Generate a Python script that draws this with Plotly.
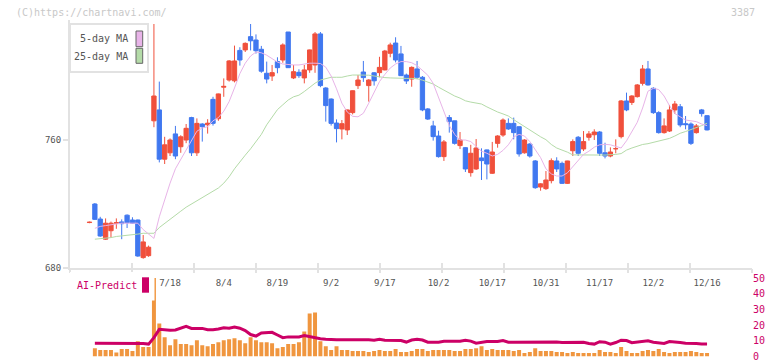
import plotly.graph_objects as go
import pandas as pd

W, H = 772, 361

holidays = ["2025-07-21", "2025-08-11", "2025-09-15", "2025-09-23",
            "2025-10-13", "2025-11-03", "2025-11-24"]
dates = [d.strftime("%Y-%m-%d") for d in pd.bdate_range("2025-06-27", "2025-12-16")
         if d.strftime("%Y-%m-%d") not in holidays]

opens = [708.4, 720.0, 710.6, 698.0, 703.3, 708.0, 708.8, 713.0, 710.0, 710.0,
         686.5, 687.7, 772.0, 778.8, 748.0, 752.0, 763.8, 755.8, 760.0, 774.0,
         752.0, 770.0, 769.5, 785.4, 773.3, 793.0, 797.5, 797.0, 816.0, 816.3,
         824.6, 822.5, 816.7, 801.7, 800.0, 809.0, 810.0, 827.5, 798.8, 802.3,
         798.8, 803.8, 806.9, 826.3, 792.5, 785.6, 770.6, 766.9, 766.3, 777.1,
         794.0, 802.5, 794.0, 802.0, 802.1, 803.8, 814.2, 820.6, 813.8, 800.6,
         798.1, 804.4, 799.2, 779.4, 768.8, 762.5, 749.6, 774.0, 772.0, 756.5,
         755.2, 739.6, 741.9, 748.8, 753.8, 739.2, 757.9, 763.1, 770.4, 770.4,
         768.3, 752.0, 757.5, 746.9, 730.6, 729.6, 734.6, 746.9, 745.4, 732.9,
         753.3, 761.7, 754.4, 761.7, 763.3, 765.0, 752.0, 750.0, 754.5, 762.1,
         784.4, 783.5, 787.1, 795.4, 804.4, 792.3, 777.1, 764.6, 765.6, 778.8,
         780.8, 770.2, 770.0, 764.6, 778.8, 775.2]
highs = [709.0, 720.6, 712.0, 711.0, 709.0, 711.0, 710.4, 713.5, 711.7, 710.2,
         700.6, 694.0, 832.5, 796.5, 762.0, 761.0, 768.8, 763.0, 770.0, 774.5,
         773.5, 770.5, 773.0, 787.0, 789.0, 798.5, 810.0, 819.0, 818.0, 821.0,
         832.5, 826.0, 818.8, 809.0, 806.9, 811.7, 820.4, 827.5, 806.9, 804.2,
         806.9, 816.5, 827.5, 827.5, 793.0, 786.0, 772.9, 772.5, 779.0, 791.0,
         800.6, 809.4, 798.0, 802.5, 812.0, 816.3, 820.8, 824.2, 818.8, 801.5,
         806.0, 809.4, 800.0, 780.0, 772.0, 765.8, 760.0, 775.6, 772.0, 765.0,
         755.5, 757.0, 760.6, 754.8, 754.0, 758.8, 763.0, 773.5, 773.5, 774.0,
         768.5, 760.5, 758.0, 747.5, 733.0, 740.6, 748.5, 749.2, 746.5, 747.0,
         760.4, 762.5, 765.6, 765.6, 766.7, 765.6, 758.3, 755.4, 760.4, 785.0,
         789.6, 788.0, 795.0, 806.9, 809.4, 793.0, 778.0, 773.5, 781.9, 784.4,
         782.5, 775.0, 771.0, 770.0, 779.4, 775.5]
lows = [708.0, 710.0, 699.5, 697.5, 699.0, 704.5, 698.0, 705.0, 707.5, 687.0,
        685.8, 687.0, 768.0, 746.0, 745.0, 750.0, 748.0, 752.0, 758.0, 750.0,
        750.0, 759.0, 764.0, 769.0, 772.0, 787.0, 796.5, 796.0, 806.5, 815.0,
        816.0, 814.0, 802.0, 795.4, 796.9, 801.7, 808.3, 805.0, 798.1, 798.8,
        795.4, 802.0, 802.0, 793.0, 771.5, 769.0, 758.5, 760.4, 763.1, 776.0,
        791.9, 796.3, 784.0, 794.0, 799.2, 803.5, 811.7, 808.5, 800.0, 795.0,
        793.3, 798.0, 778.0, 772.5, 759.6, 749.0, 746.9, 764.6, 757.1, 754.4,
        740.0, 737.1, 741.3, 735.0, 735.4, 738.8, 755.2, 762.0, 766.3, 760.4,
        749.6, 751.5, 749.0, 729.5, 728.3, 728.8, 732.9, 740.0, 732.5, 732.5,
        750.0, 750.0, 753.1, 759.6, 760.0, 750.0, 748.5, 749.2, 751.7, 761.0,
        778.0, 781.9, 786.5, 794.0, 794.0, 776.3, 764.0, 764.0, 765.0, 776.3,
        768.0, 766.7, 756.9, 764.0, 774.6, 766.0]
closes = [708.6, 710.4, 700.0, 708.0, 708.0, 708.3, 707.7, 708.3, 708.0, 687.5,
          696.3, 693.0, 787.5, 748.0, 757.0, 760.0, 750.0, 762.0, 767.3, 752.0,
          770.4, 768.3, 770.5, 770.4, 788.8, 793.5, 809.4, 809.4, 810.0, 820.4,
          822.0, 815.8, 803.0, 798.1, 802.1, 805.2, 819.4, 805.2, 802.7, 800.2,
          803.8, 816.3, 826.3, 794.0, 781.5, 770.4, 767.1, 770.2, 778.8, 790.8,
          797.5, 799.0, 797.5, 797.0, 805.4, 815.6, 819.4, 810.0, 800.2, 796.9,
          805.4, 799.2, 778.8, 773.1, 762.1, 749.6, 758.8, 771.5, 757.9, 760.0,
          741.9, 751.7, 755.0, 747.1, 745.0, 752.5, 762.5, 772.5, 766.9, 764.6,
          751.3, 760.0, 750.0, 730.2, 732.6, 735.0, 747.1, 741.9, 732.9, 746.9,
          759.0, 751.7, 759.0, 763.8, 765.0, 751.7, 750.0, 752.5, 754.6, 784.4,
          778.8, 787.5, 794.4, 804.4, 794.4, 777.1, 764.6, 768.8, 778.8, 782.5,
          769.4, 769.6, 757.9, 768.8, 776.5, 766.3]

ma5 = [None, 704.8, 706.0, 706.5, 707.0, 707.5, 708.0, 708.0, 708.0, 708.0,
       704.0, 701.0, 698.5, 712.0, 723.0, 733.0, 742.0, 748.0, 753.5, 760.0,
       765.5, 767.5, 768.3, 772.0, 774.0, 778.0, 784.0, 792.5, 801.5, 808.0,
       812.5, 815.0, 814.5, 813.0, 811.0, 808.7, 807.5, 807.0, 806.9, 806.9,
       807.5, 808.0, 808.0, 807.8, 805.5, 800.0, 792.0, 783.0, 777.5, 774.8,
       774.5, 776.7, 783.0, 790.0, 796.5, 801.0, 805.0, 807.5, 809.0, 809.0,
       808.3, 806.5, 803.5, 800.5, 795.4, 787.0, 778.0, 769.0, 763.5, 760.0,
       760.0, 759.0, 756.0, 753.0, 751.7, 750.0, 751.0, 753.5, 757.0, 762.0,
       763.5, 762.5, 759.0, 754.0, 749.0, 742.0, 738.8, 737.5, 737.5, 739.5,
       743.5, 747.5, 751.0, 753.0, 755.5, 757.0, 757.3, 757.0, 756.0, 755.0,
       759.5, 765.0, 771.0, 780.0, 790.5, 792.3, 791.5, 787.5, 781.5, 776.5,
       774.5, 772.5, 772.0, 771.5, 770.0, 769.0]
ma25 = [None, 698.0, 698.3, 698.5, 699.0, 699.7, 700.0, 700.2, 700.6, 701.2,
        701.7, 701.7, 701.7, 705.3, 708.0, 710.5, 713.0, 715.5, 718.0, 720.0,
        721.5, 723.5, 725.5, 727.5, 730.0, 733.0, 737.0, 742.0, 746.5, 750.5,
        754.5, 758.7, 763.5, 769.5, 774.5, 779.0, 782.0, 785.0, 787.0, 788.0,
        790.3, 793.0, 795.5, 797.5, 798.5, 799.2, 799.2, 799.2, 800.0, 800.6,
        800.6, 800.6, 800.5, 800.0, 799.3, 799.0, 798.8, 798.6, 798.5, 798.5,
        798.5, 798.3, 797.4, 796.3, 795.0, 793.0, 791.0, 789.5, 787.5, 786.2,
        784.5, 783.7, 783.3, 782.5, 780.7, 779.0, 777.5, 776.3, 775.0, 772.7,
        770.5, 768.3, 766.0, 763.7, 762.0, 760.2, 757.2, 755.0, 753.9, 752.4,
        750.7, 750.6, 750.6, 750.6, 750.6, 750.6, 750.6, 750.6, 751.0, 751.5,
        753.7, 755.0, 756.3, 757.2, 757.7, 758.5, 759.7, 760.5, 761.0, 762.5,
        764.2, 765.3, 766.5, 767.5, 769.0, 770.5]

volume = [None, 5.3, 4.1, 4.1, 4.1, 2.6, 4.7, 4.7, 3.5, 9.7,
          6.0, 6.0, 50.0, 21.0, 12.3, 7.2, 11.0, 7.9, 7.9, 7.2,
          10.4, 7.2, 6.6, 7.9, 9.1, 10.4, 11.0, 11.6, 10.4, 8.5,
          12.3, 10.4, 9.1, 9.1, 8.5, 5.3, 6.0, 7.9, 7.9, 9.1,
          16.0, 27.4, 28.0, 9.7, 6.6, 4.1, 6.6, 4.1, 4.1, 3.5,
          3.5, 3.5, 2.8, 3.5, 4.1, 3.5, 3.5, 4.7, 2.8, 2.8,
          3.5, 4.7, 4.7, 3.5, 4.1, 4.1, 4.1, 4.1, 3.5, 3.5,
          4.7, 4.7, 5.3, 6.6, 4.1, 4.7, 4.1, 4.1, 4.1, 3.5,
          4.1, 2.2, 2.8, 5.3, 3.5, 3.5, 3.5, 2.8, 2.8, 2.2,
          2.8, 2.2, 2.2, 2.2, 2.2, 4.1, 2.8, 2.8, 2.2, 6.0,
          3.5, 2.2, 2.2, 3.5, 4.1, 3.5, 4.7, 2.8, 2.2, 2.8,
          2.8, 2.8, 3.5, 2.8, 2.2, 2.2]

ai_predict = [None, 8.5, 8.5, 8.5, 8.5, 8.5, 8.5, 8.5, 8.5, 8.5,
              8.3, 7.9, 12.0, 17.3, 17.0, 16.7, 16.9, 17.9, 19.2, 17.9,
              17.9, 17.9, 17.0, 17.0, 17.5, 18.3, 18.0, 18.8, 18.0, 16.5,
              14.0, 13.0, 15.0, 15.4, 15.4, 13.7, 12.0, 12.5, 12.5, 12.5,
              13.3, 12.5, 11.8, 11.3, 11.0, 10.6, 10.6, 10.6, 10.6, 11.0,
              10.6, 11.0, 10.6, 10.4, 11.0, 10.4, 10.2, 10.2, 10.2, 9.2,
              10.5, 11.0, 10.5, 9.1, 9.1, 9.1, 9.7, 9.7, 9.7, 9.7,
              10.4, 9.8, 8.5, 9.2, 9.5, 9.5, 9.5, 10.2, 9.1, 9.1,
              9.1, 9.5, 9.5, 9.5, 9.5, 9.2, 9.5, 9.2, 8.9, 8.9,
              9.0, 9.1, 9.1, 8.3, 7.9, 9.4, 9.1, 7.9, 8.9, 10.4,
              10.2, 8.8, 9.3, 9.8, 10.0, 9.1, 8.7, 8.3, 9.5, 9.0,
              8.9, 8.5, 8.5, 8.3, 7.9, 7.9]

tick_dates = ["2025-07-18", "2025-08-04", "2025-08-19", "2025-09-02", "2025-09-17",
              "2025-10-02", "2025-10-17", "2025-10-31", "2025-11-17", "2025-12-02",
              "2025-12-16"]
tick_text = ["7/18", "8/4", "8/19", "9/2", "9/17", "10/2", "10/17", "10/31",
             "11/17", "12/2", "12/16"]
price_ticks = [680, 760]
ai_ticks = [0, 10, 20, 30, 40, 50]
grid_ticks = list(range(12))

RED = "#f0503c"
BLUE = "#4078f0"
PINK = "#e8b4e8"
GREEN = "#b4dba8"
ORANGE = "#f0963f"
MAG = "#cc0066"
LG = "#e2e2e2"
TXT = "#555555"
FONT = "DejaVu Sans Mono"


def px(x):
    return x / W


def py(y):
    return 1 - y / H


fig = go.Figure()
fig.add_trace(go.Scatter(x=dates, y=ma25, mode="lines", line=dict(color=GREEN, width=1),
                         showlegend=False, hoverinfo="skip"))
fig.add_trace(go.Scatter(x=dates, y=ma5, mode="lines", line=dict(color=PINK, width=1),
                         showlegend=False, hoverinfo="skip"))
fig.add_trace(go.Candlestick(
    x=dates, open=opens, high=highs, low=lows, close=closes,
    increasing=dict(line=dict(color=RED, width=1), fillcolor=RED),
    decreasing=dict(line=dict(color=BLUE, width=1), fillcolor=BLUE),
    whiskerwidth=0, showlegend=False, hoverinfo="skip"))
fig.add_trace(go.Bar(x=dates, y=volume, xaxis="x2", yaxis="y2",
                     marker=dict(color=ORANGE, line=dict(width=0)),
                     width=0.74, showlegend=False, hoverinfo="skip"))
fig.add_trace(go.Scatter(x=dates, y=ai_predict, xaxis="x2", yaxis="y2", mode="lines",
                         line=dict(color=MAG, width=3), showlegend=False, hoverinfo="skip"))
# empty traces so that the two tick-only overlay axes get drawn
fig.add_trace(go.Scatter(x=[], y=[], xaxis="x3", yaxis="y", showlegend=False, hoverinfo="skip"))
fig.add_trace(go.Scatter(x=[], y=[], xaxis="x4", yaxis="y", showlegend=False, hoverinfo="skip"))

xdom = [px(70), px(752)]
xrange = [-3.63, 123.37]

fig.update_layout(
    template="none",
    width=W, height=H, margin=dict(l=0, r=0, t=0, b=0, pad=0, autoexpand=False),
    paper_bgcolor="white", plot_bgcolor="white",
    boxgap=0.2, boxgroupgap=0.0, bargap=0.25, showlegend=False,
    font=dict(family=FONT, size=9, color=TXT),
    xaxis=dict(domain=xdom, type="category", range=xrange, anchor="y", automargin=False,
               showline=True, linecolor=LG, linewidth=2, ticks="",
               tickmode="array", tickvals=tick_dates, ticktext=tick_text,
               tickfont=dict(family=FONT, size=9, color=TXT), ticklabelstandoff=5,
               showgrid=False, zeroline=False, rangeslider=dict(visible=False)),
    yaxis=dict(domain=[py(268), py(20)], range=[680, 835], anchor="x", automargin=False,
               tickmode="array", tickvals=price_ticks, ticks="outside", ticklen=5,
               tickcolor=LG, tickwidth=2, showline=True, linecolor=LG, linewidth=2,
               showgrid=False, zeroline=False,
               tickfont=dict(family=FONT, size=9, color=TXT)),
    xaxis3=dict(overlaying="x", anchor="y", range=[0, 11], tickmode="array", automargin=False,
                tickvals=grid_ticks, ticks="outside", ticklen=4, tickwidth=2,
                tickcolor=LG, showticklabels=False, showgrid=False, zeroline=False,
                showline=False),
    xaxis4=dict(overlaying="x", anchor="y", range=[0, 11], tickmode="array", automargin=False,
                tickvals=grid_ticks, ticks="inside", ticklen=5, tickwidth=2,
                tickcolor=LG, showticklabels=False, showgrid=False, zeroline=False,
                showline=False),
    xaxis2=dict(domain=xdom, type="category", range=xrange, anchor="y2", matches="x",
                visible=False, automargin=False),
    yaxis2=dict(domain=[py(356.5), py(278)], range=[0, 50], anchor="x2", side="right",
                automargin=False, ticklabeloverflow="allow",
                tickmode="array", tickvals=ai_ticks, ticks="", showline=False,
                showgrid=False, zeroline=False, ticklabelstandoff=0,
                tickfont=dict(family=FONT, size=10, color=MAG)),
)

shapes = [
    dict(type="rect", xref="paper", yref="paper", x0=px(70), x1=px(148), y0=py(72), y1=py(24),
         line=dict(color=LG, width=2), fillcolor="white", layer="above"),
    dict(type="rect", xref="paper", yref="paper", x0=px(136), x1=px(142.7), y0=py(46.7), y1=py(31),
         line=dict(color="#666666", width=1), fillcolor=PINK, layer="above"),
    dict(type="rect", xref="paper", yref="paper", x0=px(136), x1=px(142.7), y0=py(63.3), y1=py(48.3),
         line=dict(color="#666666", width=1), fillcolor=GREEN, layer="above"),
    dict(type="rect", xref="paper", yref="paper", x0=px(70), x1=px(154.5), y0=py(300.5), y1=py(272),
         line=dict(width=0), fillcolor="white", layer="above"),
    dict(type="rect", xref="paper", yref="paper", x0=px(142), x1=px(149), y0=py(292.7), y1=py(277.3),
         line=dict(width=0), fillcolor=MAG, layer="above"),
]
fig.update_layout(shapes=shapes)

annotations = [
    dict(text="(C)https://chartnavi.com/", x=px(14), y=py(12.5), xref="paper", yref="paper",
         xanchor="left", yanchor="middle", showarrow=False,
         font=dict(family=FONT, size=10, color="#c8c8c8")),
    dict(text="3387", x=px(757), y=py(12.5), xref="paper", yref="paper",
         xanchor="right", yanchor="middle", showarrow=False,
         font=dict(family=FONT, size=10, color="#c8c8c8")),
    dict(text="5-day MA", x=px(130), y=py(39), xref="paper", yref="paper",
         xanchor="right", yanchor="middle", showarrow=False,
         font=dict(family=FONT, size=10, color=TXT)),
    dict(text="25-day MA", x=px(130), y=py(56.5), xref="paper", yref="paper",
         xanchor="right", yanchor="middle", showarrow=False,
         font=dict(family=FONT, size=10, color=TXT)),
    dict(text="AI-Predict", x=px(75), y=py(285.5), xref="paper", yref="paper",
         xanchor="left", yanchor="middle", showarrow=False,
         font=dict(family=FONT, size=10, color=MAG)),
]
fig.update_layout(annotations=annotations)

fig.write_html("out.html", config={"displayModeBar": False, "staticPlot": True},
               post_script="document.body.style.margin='0';document.body.style.padding='0';"
                           "document.body.style.overflow='hidden';")
